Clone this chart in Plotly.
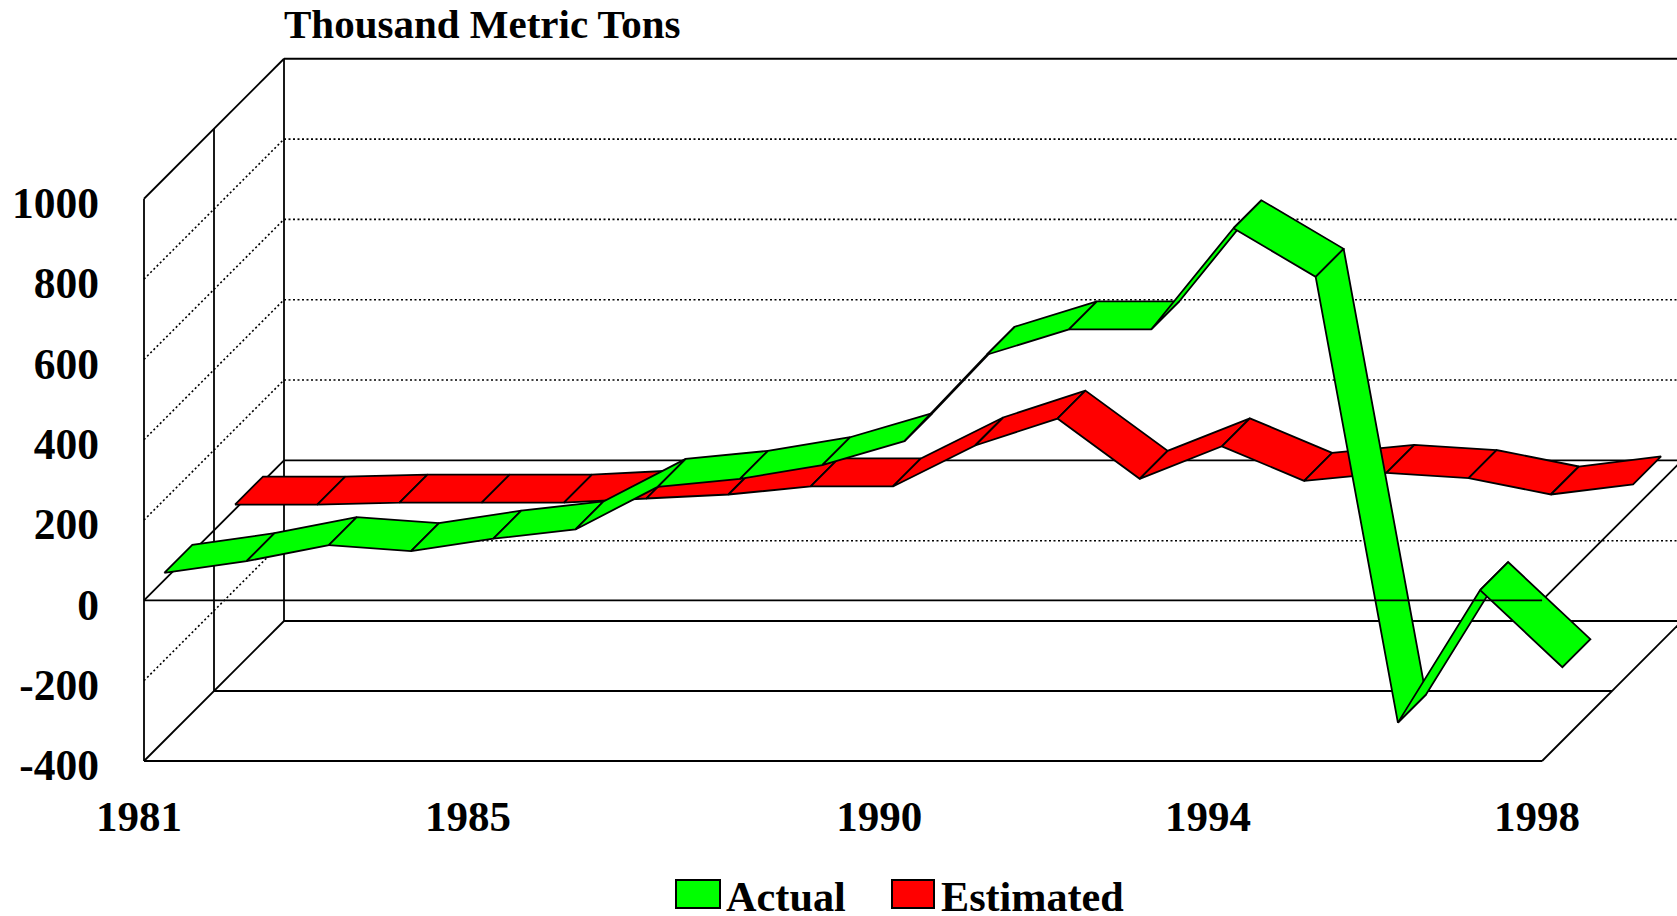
import plotly.graph_objects as go

# ---- data ----
years = list(range(1981, 1999))
actual = [18, 47, 87, 72, 103, 126, 232, 252, 286, 346, 561, 624, 624, 876, 755, -355, -25, -217]
estimated = [12, 12, 17, 17, 17, 27, 37, 57, 57, 159, 226, 76, 157, 71, 91, 78, 37, 62]
value_ticks = [-400, -200, 0, 200, 400, 600, 800, 1000]
year_ticks = [1981, 1985, 1990, 1994, 1998]
dotted_levels = [-200, 200, 400, 600, 800]

# ---- oblique projection: depth 0 = front wall, 1 = back wall ----
W, H = 1677, 916
PX_YEAR = 82.24
PX_VALUE = 0.4016
WALL_PX = 140.0
LEFT_PX, BOTTOM_PX = 144.0, 761.0
PAD = 10


def proj(year, value, depth):
    return (year + depth * WALL_PX / PX_YEAR, value + depth * WALL_PX / PX_VALUE)


def px2paper(px, py):
    pl = LEFT_PX - PAD
    pb = BOTTOM_PX + PAD
    return (px - pl) / (W - pl), (pb - py) / (pb - 40)


fig = go.Figure()
BLACK = "#000000"
LW = 1.8


def seg(a, b, dash="solid", width=LW):
    pts = [proj(*a), proj(*b)]
    fig.add_trace(go.Scatter(x=[p[0] for p in pts], y=[p[1] for p in pts], mode="lines",
                             line=dict(color=BLACK, width=width, dash=dash),
                             showlegend=False, hoverinfo="skip"))


y0, y1 = years[0], years[-1]
vmin, vmax = value_ticks[0], value_ticks[-1]
DOT = "2px,2.5px"

# walls and floor
for lv in dotted_levels:
    seg((y0, lv, 0), (y0, lv, 1), DOT, 1.6)
    seg((y0, lv, 1), (y1, lv, 1), DOT, 1.6)
for d in (0, 0.5, 1):
    seg((y0, vmin, d), (y0, vmax, d))
seg((y0, vmax, 0), (y0, vmax, 1))
seg((y0, vmax, 1), (y1, vmax, 1))
seg((y0, vmin, 0), (y0, vmin, 1))
seg((y1, vmin, 0), (y1, vmin, 1))
for d in (0, 0.5, 1):
    seg((y0, vmin, d), (y1, vmin, d))
# zero plane (back edges)
seg((y0, 0, 0), (y0, 0, 1))
seg((y0, 0, 1), (y1, 0, 1))
seg((y1, 0, 0), (y1, 0, 1))


def ribbon(vals, d_front, d_back, color, name):
    for i in range(len(years) - 1):
        quad = [(years[i], vals[i], d_front), (years[i + 1], vals[i + 1], d_front),
                (years[i + 1], vals[i + 1], d_back), (years[i], vals[i], d_back),
                (years[i], vals[i], d_front)]
        pts = [proj(*q) for q in quad]
        fig.add_trace(go.Scatter(x=[p[0] for p in pts], y=[p[1] for p in pts], mode="lines",
                                 fill="toself", fillcolor=color,
                                 line=dict(color=BLACK, width=LW),
                                 name=name, legendgroup=name, showlegend=False,
                                 hoverinfo="skip"))


ribbon(estimated, 0.65, 0.85, "#FF0000", "Estimated")
ribbon(actual, 0.145, 0.345, "#00FF00", "Actual")

# front edge of the zero plane sits on top of the ribbons
seg((y0, 0, 0), (y1, 0, 0))

FONT = "Liberation Serif"
fig.update_layout(
    width=W, height=H, autosize=False,
    paper_bgcolor="white", plot_bgcolor="white", showlegend=False,
    margin=dict(l=LEFT_PX - PAD, r=0, t=40, b=H - BOTTOM_PX - PAD, pad=0),
    font=dict(family=FONT, color="black"),
    xaxis=dict(range=[y0 - PAD / PX_YEAR, y0 + (W - LEFT_PX) / PX_YEAR],
               tickmode="array", tickvals=year_ticks, ticktext=[str(y) for y in year_ticks],
               showgrid=False, zeroline=False, showline=False, ticks="",
               tickfont=dict(family=FONT, size=43, color="black", weight="bold"),
               ticklabelstandoff=16, ticklabelshift=-5),
    yaxis=dict(range=[vmin - PAD / PX_VALUE, vmin + (BOTTOM_PX - 40) / PX_VALUE],
               tickmode="array", tickvals=value_ticks, ticktext=[str(v) for v in value_ticks],
               showgrid=False, zeroline=False, showline=False, ticks="",
               tickfont=dict(family=FONT, size=43.5, color="black", weight="bold"),
               ticklabelstandoff=34, ticklabelshift=4),
)


def text(px, py, s, size=42):
    x, y = px2paper(px, py)
    fig.add_annotation(x=x, y=y, xref="paper", yref="paper", text="<b>%s</b>" % s, showarrow=False,
                       xanchor="left", yanchor="middle", align="left",
                       font=dict(family=FONT, size=size, color="black"))


def swatch(px0, py0, px1, py1, color):
    a = px2paper(px0, py0)
    b = px2paper(px1, py1)
    fig.add_shape(type="rect", xref="paper", yref="paper", x0=a[0], y0=a[1], x1=b[0], y1=b[1],
                  fillcolor=color, line=dict(color=BLACK, width=2))


text(282, 24, "Thousand Metric Tons", 41)
swatch(676, 880, 720, 908, "#00FF00")
text(724, 897, "Actual", 42.3)
swatch(892, 880, 934, 908, "#FF0000")
text(939, 897, "Estimated", 42.2)

fig.write_html("out.html", config=dict(displayModeBar=False),
               post_script="document.body.style.margin='0';document.body.style.overflow='hidden';")
